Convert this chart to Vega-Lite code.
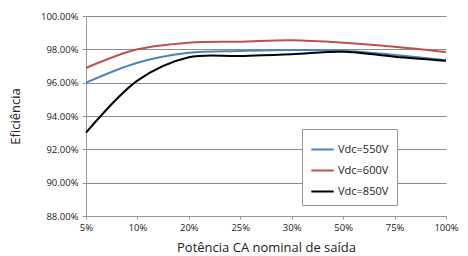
{
  "$schema": "https://vega.github.io/schema/vega-lite/v6.json",
  "autosize": {"type": "none"},
  "width": 360,
  "height": 200,
  "padding": {"left": 86, "top": 16, "right": 22, "bottom": 40},
  "background": "white",
  "config": {
    "view": {"stroke": null},
    "font": "Open Sans"
  },
  "data": {
    "values": [
      {"p": "5%", "s": "Vdc=550V", "v": 0.9600},
      {"p": "10%", "s": "Vdc=550V", "v": 0.9720},
      {"p": "20%", "s": "Vdc=550V", "v": 0.9780},
      {"p": "25%", "s": "Vdc=550V", "v": 0.9790},
      {"p": "30%", "s": "Vdc=550V", "v": 0.9796},
      {"p": "50%", "s": "Vdc=550V", "v": 0.9792},
      {"p": "75%", "s": "Vdc=550V", "v": 0.9766},
      {"p": "100%", "s": "Vdc=550V", "v": 0.9735},
      {"p": "5%", "s": "Vdc=600V", "v": 0.9688},
      {"p": "10%", "s": "Vdc=600V", "v": 0.9800},
      {"p": "20%", "s": "Vdc=600V", "v": 0.9840},
      {"p": "25%", "s": "Vdc=600V", "v": 0.9846},
      {"p": "30%", "s": "Vdc=600V", "v": 0.9854},
      {"p": "50%", "s": "Vdc=600V", "v": 0.9840},
      {"p": "75%", "s": "Vdc=600V", "v": 0.9816},
      {"p": "100%", "s": "Vdc=600V", "v": 0.9784},
      {"p": "5%", "s": "Vdc=850V", "v": 0.9300},
      {"p": "10%", "s": "Vdc=850V", "v": 0.9612},
      {"p": "20%", "s": "Vdc=850V", "v": 0.9752},
      {"p": "25%", "s": "Vdc=850V", "v": 0.9760},
      {"p": "30%", "s": "Vdc=850V", "v": 0.9770},
      {"p": "50%", "s": "Vdc=850V", "v": 0.9786},
      {"p": "75%", "s": "Vdc=850V", "v": 0.9756},
      {"p": "100%", "s": "Vdc=850V", "v": 0.9732}
    ]
  },
  "mark": {"type": "line", "interpolate": "catmull-rom", "strokeWidth": 2},
  "encoding": {
    "x": {
      "field": "p",
      "type": "ordinal",
      "sort": ["5%", "10%", "20%", "25%", "30%", "50%", "75%", "100%"],
      "scale": {"type": "point", "padding": 0},
      "axis": {
        "title": "Potência CA nominal de saída",
        "titleFontSize": 13,
        "titleFontWeight": "normal",
        "titleColor": "#222",
        "titlePadding": 10,
        "labelAngle": 0,
        "labelFontSize": 9.5,
        "labelColor": "#222",
        "labelPadding": 3,
        "domainColor": "#999",
        "tickColor": "#999",
        "tickSize": 3,
        "grid": false
      }
    },
    "y": {
      "field": "v",
      "type": "quantitative",
      "scale": {"domain": [0.88, 1.0], "nice": false, "zero": false},
      "axis": {
        "title": "Eficiência",
        "titleFontSize": 13,
        "titleFontWeight": "normal",
        "titleColor": "#222",
        "titleX": -71,
        "titleY": 100,
        "titleAlign": "center",
        "titleBaseline": "middle",
        "format": ".2%",
        "values": [0.88, 0.90, 0.92, 0.94, 0.96, 0.98, 1.0],
        "labelFontSize": 9.5,
        "labelColor": "#222",
        "labelPadding": 4,
        "tickSize": 4,
        "tickColor": "#999",
        "domainColor": "#999",
        "gridColor": "#8c8c8c",
        "gridWidth": 1
      }
    },
    "color": {
      "field": "s",
      "type": "nominal",
      "scale": {"domain": ["Vdc=550V", "Vdc=600V", "Vdc=850V"], "range": ["#4F81BD", "#C0504D", "#000000"]},
      "legend": {
        "title": null,
        "orient": "none",
        "legendX": 216,
        "legendY": 113,
        "symbolType": "stroke",
        "symbolSize": 500,
        "symbolStrokeWidth": 2,
        "labelFontSize": 11,
        "labelColor": "#222",
        "rowPadding": 3,
        "padding": 8,
        "strokeColor": "#999",
        "fillColor": "white",
        "labelOffset": 3
      }
    }
  }
}
